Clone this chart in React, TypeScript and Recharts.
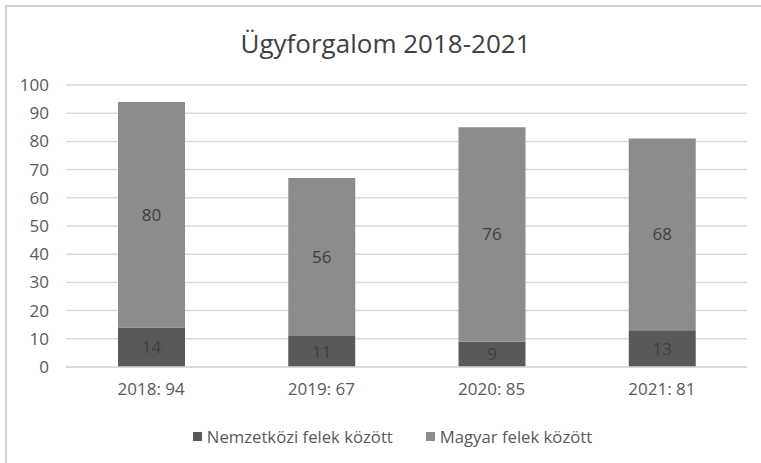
import React from "react";
import { BarChart, Bar, XAxis, YAxis, CartesianGrid, Legend, LabelList } from "recharts";

const categories = ["2018: 94", "2019: 67", "2020: 85", "2021: 81"];
const nemzetkozi = [14, 11, 9, 13];
const magyar = [80, 56, 76, 68];
const yTicks = [0, 10, 20, 30, 40, 50, 60, 70, 80, 90, 100];

const data = categories.map((c, i) => ({ name: c, nemzetkozi: nemzetkozi[i], magyar: magyar[i] }));

const FONT = "'Open Sans', 'Liberation Sans', sans-serif";
const DARK = "#595959";
const LIGHT = "#8c8c8c";

const renderLegend = () => (
  <div style={{ display: "flex", justifyContent: "center", fontFamily: FONT, fontSize: 16.7, color: "#595959", paddingLeft: 38 }}>
    <span style={{ display: "inline-flex", alignItems: "center", marginRight: 33 }}>
      <span style={{ width: 9, height: 9, background: DARK, display: "inline-block", marginRight: 5 }} />
      Nemzetközi felek között
    </span>
    <span style={{ display: "inline-flex", alignItems: "center" }}>
      <span style={{ width: 9, height: 9, background: LIGHT, display: "inline-block", marginRight: 5 }} />
      Magyar felek között
    </span>
  </div>
);

export default function App() {
  return (
    <div style={{ position: "absolute", left: 0, top: 0, width: 761, height: 463, background: "#fff" }}>
      <div style={{ position: "absolute", left: 5, top: 5, right: 0, bottom: 0, borderTop: "2px solid #d0d0d0", borderLeft: "2px solid #d0d0d0" }} />
      <div style={{ position: "absolute", left: 5, top: 25, width: 761, textAlign: "center", fontFamily: FONT, fontSize: 26, color: "#404040" }}>
        Ügyforgalom 2018-2021
      </div>
      <div style={{ position: "absolute", left: 0, top: 0 }}>
        <BarChart width={761} height={463} data={data} margin={{ top: 85, right: 14, bottom: 42, left: 0 }} barCategoryGap="30%">
          <CartesianGrid vertical={false} stroke="#d9d9d9" strokeWidth={1.5} />
          <XAxis dataKey="name" tickLine={false} axisLine={{ stroke: "#d9d9d9", strokeWidth: 1.5 }} height={30} tickMargin={10}
            tick={{ fontFamily: FONT, fontSize: 17, fill: "#595959" }} />
          <YAxis domain={[0, 100]} ticks={yTicks} width={66} tickLine={false} axisLine={false} tickMargin={11}
            tick={{ fontFamily: FONT, fontSize: 17, fill: "#595959" }} interval={0} />
          <Legend verticalAlign="bottom" content={renderLegend} wrapperStyle={{ bottom: 14 }} height={24} />
          <Bar dataKey="nemzetkozi" stackId="a" fill={DARK} isAnimationActive={false} barSize={67}>
            <LabelList dataKey="nemzetkozi" position="center" fill="#404040" fontSize={17} fontFamily={FONT} />
          </Bar>
          <Bar dataKey="magyar" stackId="a" fill={LIGHT} isAnimationActive={false} barSize={67}>
            <LabelList dataKey="magyar" position="center" fill="#404040" fontSize={17} fontFamily={FONT} />
          </Bar>
        </BarChart>
      </div>
    </div>
  );
}
